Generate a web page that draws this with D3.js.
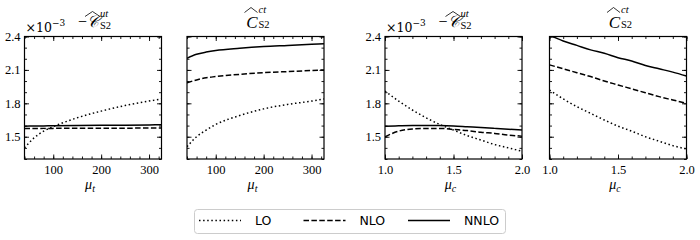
<!DOCTYPE html>
<html>
<head>
<meta charset="utf-8">
<script src="https://cdn.jsdelivr.net/npm/d3@7"></script>
<style>
  body { margin: 0; background: #fff; }
  svg { display: block; }
</style>
</head>
<body>
<svg id="chart" width="700" height="240"></svg>
<script>
// Scale variations: mu_t (GeV) and mu_c (GeV)
const MU_T = [40, 60, 80, 100, 150, 200, 250, 300, 326];
const MU_C = [1.0, 1.1, 1.2, 1.3, 1.4, 1.5, 1.6, 1.7, 1.8, 1.9, 2.0];

// -C_S2^ut (x 10^-3) vs mu_t
const UT_MT_LO   = [1.40, 1.49, 1.55, 1.59, 1.67, 1.73, 1.78, 1.82, 1.84];
const UT_MT_NLO  = [1.573, 1.574, 1.575, 1.575, 1.576, 1.577, 1.577, 1.578, 1.578];
const UT_MT_NNLO = [1.595, 1.596, 1.597, 1.598, 1.600, 1.602, 1.604, 1.606, 1.607];

// C_S2^ct vs mu_t
const CT_MT_LO   = [1.41, 1.50, 1.56, 1.61, 1.69, 1.75, 1.79, 1.82, 1.84];
const CT_MT_NLO  = [1.985, 2.01, 2.03, 2.04, 2.06, 2.075, 2.085, 2.095, 2.10];
const CT_MT_NNLO = [2.205, 2.24, 2.26, 2.275, 2.295, 2.31, 2.32, 2.33, 2.335];

// -C_S2^ut vs mu_c
const UT_MC_LO   = [1.91, 1.82, 1.74, 1.67, 1.61, 1.56, 1.51, 1.47, 1.43, 1.40, 1.37];
const UT_MC_NLO  = [1.50, 1.55, 1.57, 1.575, 1.575, 1.565, 1.555, 1.54, 1.53, 1.515, 1.505];
const UT_MC_NNLO = [1.595, 1.598, 1.60, 1.60, 1.60, 1.597, 1.59, 1.583, 1.575, 1.567, 1.56];

// C_S2^ct vs mu_c
const CT_MC_LO   = [1.92, 1.84, 1.77, 1.71, 1.65, 1.595, 1.55, 1.50, 1.46, 1.42, 1.39];
const CT_MC_NLO  = [2.145, 2.11, 2.075, 2.04, 2.0, 1.965, 1.93, 1.895, 1.86, 1.83, 1.80];
const CT_MC_NNLO = [2.41, 2.36, 2.32, 2.28, 2.25, 2.21, 2.18, 2.14, 2.11, 2.08, 2.045];

const Y_TICKS = [1.5, 1.8, 2.1, 2.4];
const MT_TICKS = [100, 200, 300];
const MC_TICKS = [1.0, 1.5, 2.0];
const LEGEND_LABELS = ['LO', 'NLO', 'NNLO'];

// Layout
const TOP = 36.5, BOTTOM = 159, PANEL_W = 137;
const Y_DOMAIN = [1.3, 2.4];
const MT_DOMAIN = [40, 326];
const MC_DOMAIN = [1.0, 2.0];
const DASHES = ['1.5,2.6', '5.5,2.4', null];
const SERIF = '"Liberation Serif", "DejaVu Serif", serif';
const WIDE_SERIF = '"DejaVu Serif", serif';
const SANS = '"DejaVu Sans", sans-serif';

const svg = d3.select('#chart');

const panels = [
  { left: 24.5, xs: MU_T, xDomain: MT_DOMAIN, xTicks: MT_TICKS, minorStep: 20, sets: [UT_MT_LO, UT_MT_NLO, UT_MT_NNLO], kind: 'ut', yLabels: true, xlab: 't', fmt: d3.format('d') },
  { left: 187,  xs: MU_T, xDomain: MT_DOMAIN, xTicks: MT_TICKS, minorStep: 20, sets: [CT_MT_LO, CT_MT_NLO, CT_MT_NNLO], kind: 'ct', yLabels: false, xlab: 't', fmt: d3.format('d') },
  { left: 385,  xs: MU_C, xDomain: MC_DOMAIN, xTicks: MC_TICKS, minorStep: 0.1, sets: [UT_MC_LO, UT_MC_NLO, UT_MC_NNLO], kind: 'ut', yLabels: true, xlab: 'c', fmt: d3.format('.1f') },
  { left: 549.5, xs: MU_C, xDomain: MC_DOMAIN, xTicks: MC_TICKS, minorStep: 0.1, sets: [CT_MC_LO, CT_MC_NLO, CT_MC_NNLO], kind: 'ct', yLabels: false, xlab: 'c', fmt: d3.format('.1f') }
];

function minorTicks(domain, step) {
  const out = [];
  const start = Math.ceil(domain[0] / step - 1e-9) * step;
  for (let v = start; v <= domain[1] + 1e-9; v += step) out.push(+v.toFixed(6));
  return out;
}

function styleAxis(g) {
  g.select('.domain').remove();
  g.selectAll('.tick line').attr('stroke', '#000').attr('stroke-width', 0.9);
  g.selectAll('.tick text')
    .style('font-family', SERIF)
    .style('font-size', '12.5px')
    .attr('fill', '#000');
}

function serifText(x, y, size, family = SERIF) {
  return svg.append('text')
    .attr('x', x).attr('y', y)
    .style('font-family', family)
    .style('font-size', size + 'px')
    .attr('fill', '#000');
}

function hat(x0, x1, yTop, yBase) {
  svg.append('path')
    .attr('d', `M${x0},${yBase} L${(x0 + x1) / 2},${yTop} L${x1},${yBase}`)
    .attr('fill', 'none').attr('stroke', '#000').attr('stroke-width', 0.8);
}

panels.forEach((p, i) => {
  const x = d3.scaleLinear().domain(p.xDomain).range([p.left, p.left + PANEL_W]);
  const y = d3.scaleLinear().domain(Y_DOMAIN).range([BOTTOM, TOP]);

  const xMinor = minorTicks(p.xDomain, p.minorStep);
  const yMinor = minorTicks(Y_DOMAIN, 0.1);

  // minor ticks (inward, all four sides)
  svg.append('g').attr('transform', `translate(0,${BOTTOM})`)
    .call(d3.axisBottom(x).tickValues(xMinor).tickSize(-2.5).tickFormat('')).call(styleAxis);
  svg.append('g').attr('transform', `translate(0,${TOP})`)
    .call(d3.axisTop(x).tickValues(xMinor).tickSize(-2.5).tickFormat('')).call(styleAxis);
  svg.append('g').attr('transform', `translate(${p.left},0)`)
    .call(d3.axisLeft(y).tickValues(yMinor).tickSize(-2.5).tickFormat('')).call(styleAxis);
  svg.append('g').attr('transform', `translate(${p.left + PANEL_W},0)`)
    .call(d3.axisRight(y).tickValues(yMinor).tickSize(-2.5).tickFormat('')).call(styleAxis);

  // major ticks
  svg.append('g').attr('transform', `translate(0,${BOTTOM})`)
    .call(d3.axisBottom(x).tickValues(p.xTicks).tickSize(-4.5).tickPadding(6).tickFormat(p.fmt))
    .call(styleAxis);
  svg.append('g').attr('transform', `translate(0,${TOP})`)
    .call(d3.axisTop(x).tickValues(p.xTicks).tickSize(-4.5).tickFormat('')).call(styleAxis);
  svg.append('g').attr('transform', `translate(${p.left},0)`)
    .call(d3.axisLeft(y).tickValues(Y_TICKS).tickSize(-4.5).tickPadding(4)
      .tickFormat(p.yLabels ? d3.format('.1f') : ''))
    .call(styleAxis);
  svg.append('g').attr('transform', `translate(${p.left + PANEL_W},0)`)
    .call(d3.axisRight(y).tickValues(Y_TICKS).tickSize(-4.5).tickFormat('')).call(styleAxis);

  // curves
  const clipId = `clip-${i}`;
  svg.append('clipPath').attr('id', clipId).append('rect')
    .attr('x', p.left).attr('y', TOP).attr('width', PANEL_W).attr('height', BOTTOM - TOP);

  const line = d3.line()
    .x((d, j) => x(p.xs[j]))
    .y(d => y(d))
    .curve(d3.curveMonotoneX);

  p.sets.forEach((vals, k) => {
    svg.append('path')
      .attr('clip-path', `url(#${clipId})`)
      .attr('d', line(vals))
      .attr('fill', 'none')
      .attr('stroke', '#000')
      .attr('stroke-width', 1.5)
      .attr('stroke-dasharray', DASHES[k]);
  });

  // frame
  svg.append('rect')
    .attr('x', p.left).attr('y', TOP).attr('width', PANEL_W).attr('height', BOTTOM - TOP)
    .attr('fill', 'none').attr('stroke', '#000').attr('stroke-width', 1.2);

  // offset label
  if (p.yLabels) {
    const off = serifText(p.left + 1, 31.5, 12.5, WIDE_SERIF);
    off.append('tspan').text('×10');
    off.append('tspan').attr('dy', -5.5).style('font-size', '9px').text('−3');
  }

  // title: main letter + super/subscripts
  const cx = p.left + PANEL_W / 2;
  if (p.kind === 'ut') {
    serifText(cx + 6, 27, 16).attr('text-anchor', 'end')
      .append('tspan').text('−')
      .append('tspan').attr('font-style', 'italic').text('𝒞');
    serifText(cx + 7, 17, 10.5).style('font-style', 'italic').text('ut');
    serifText(cx + 7, 28.5, 10.5).text('S2');
    hat(cx - 8, cx + 7, 11.5, 16.5);
  } else {
    serifText(cx + 2, 27.5, 17).attr('text-anchor', 'end').style('font-style', 'italic').text('C');
    serifText(cx + 3, 13, 10.5).style('font-style', 'italic').text('ct');
    serifText(cx + 3, 27.5, 10.5).text('S2');
    hat(cx - 11, cx + 2, 7.5, 12.5);
  }

  // x-axis label
  const xl = serifText(cx - 3, 189, 14).attr('text-anchor', 'middle');
  xl.append('tspan').attr('font-style', 'italic').text('μ');
  xl.append('tspan').attr('dy', 3).style('font-size', '10px').attr('font-style', 'italic').text(p.xlab);
});

// legend
const legend = svg.append('g');
legend.append('rect')
  .attr('x', 194.5).attr('y', 209.5).attr('width', 311).attr('height', 24)
  .attr('rx', 3).attr('fill', '#fff').attr('stroke', '#ccc').attr('stroke-width', 1);

const legendX = d3.scalePoint().domain(LEGEND_LABELS).range([199, 408]);
LEGEND_LABELS.forEach((label, k) => {
  const x0 = legendX(label);
  legend.append('line')
    .attr('x1', x0).attr('x2', x0 + 42).attr('y1', 220.5).attr('y2', 220.5)
    .attr('stroke', '#000').attr('stroke-width', 1.5)
    .attr('stroke-dasharray', DASHES[k]);
  legend.append('text')
    .attr('x', x0 + 56).attr('y', 225)
    .style('font-family', SANS).style('font-size', '12.5px')
    .attr('fill', '#000').text(label);
});
</script>
</body>
</html>
